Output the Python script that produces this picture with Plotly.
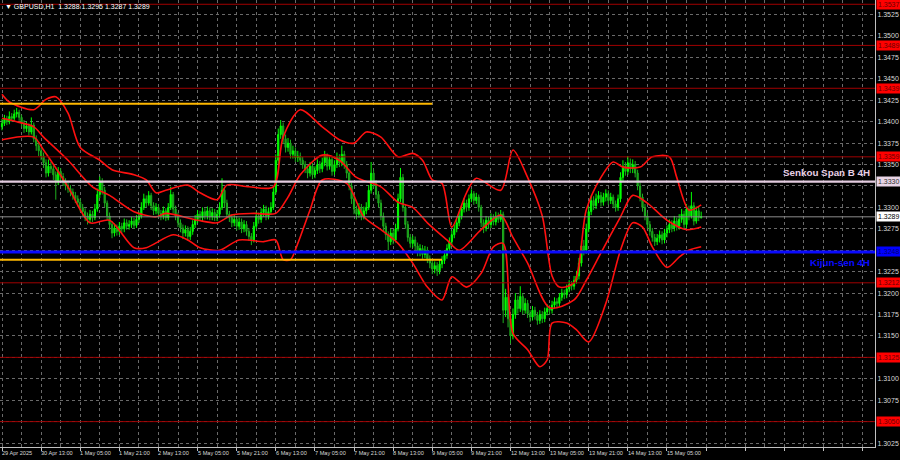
import plotly.graph_objects as go

# ---------------- data (GBPUSD H1) ----------------
closes = [
1.3398,1.3403,1.3400,1.3406,1.3404,1.3409,1.3411,1.3405,1.3398,1.3392,
1.3395,1.3388,1.3396,1.3380,1.3372,1.3366,1.3360,1.3352,1.3340,1.3348,
1.3345,1.3338,1.3330,1.3342,1.3336,1.3330,1.3325,1.3322,1.3318,1.3314,
1.3310,1.3306,1.3300,1.3295,1.3290,1.3286,1.3292,1.3288,1.3298,1.3315,
1.3330,1.3320,1.3305,1.3290,1.3280,1.3270,1.3276,1.3272,1.3278,1.3275,
1.3282,1.3278,1.3280,1.3284,1.3279,1.3286,1.3290,1.3300,1.3310,1.3305,
1.3314,1.3302,1.3296,1.3300,1.3293,1.3290,1.3296,1.3288,1.3300,1.3315,
1.3298,1.3290,1.3282,1.3276,1.3270,1.3274,1.3266,1.3272,1.3280,1.3286,
1.3292,1.3288,1.3295,1.3290,1.3296,1.3289,1.3294,1.3288,1.3292,1.3300,
1.3320,1.3305,1.3292,1.3288,1.3282,1.3286,1.3278,1.3283,1.3275,1.3280,
1.3272,1.3266,1.3262,1.3278,1.3290,1.3286,1.3294,1.3298,1.3290,1.3295,
1.3300,1.3318,1.3355,1.3385,1.3395,1.3380,1.3370,1.3375,1.3362,1.3366,
1.3358,1.3360,1.3355,1.3350,1.3345,1.3340,1.3348,1.3338,1.3343,1.3350,
1.3345,1.3352,1.3360,1.3348,1.3356,1.3342,1.3350,1.3358,1.3352,1.3362,
1.3350,1.3340,1.3325,1.3310,1.3298,1.3292,1.3300,1.3290,1.3296,1.3300,
1.3320,1.3340,1.3328,1.3315,1.3305,1.3290,1.3278,1.3268,1.3260,1.3270,
1.3262,1.3275,1.3310,1.3335,1.3300,1.3280,1.3265,1.3258,1.3262,1.3255,
1.3248,1.3252,1.3245,1.3250,1.3240,1.3235,1.3228,1.3232,1.3226,1.3234,
1.3238,1.3244,1.3252,1.3260,1.3268,1.3275,1.3282,1.3290,1.3298,1.3305,
1.3300,1.3310,1.3316,1.3308,1.3312,1.3300,1.3282,1.3276,1.3285,1.3280,
1.3288,1.3283,1.3290,1.3286,1.3292,1.3180,1.3195,1.3170,1.3150,1.3175,
1.3192,1.3182,1.3196,1.3180,1.3188,1.3176,1.3172,1.3180,1.3174,1.3168,
1.3175,1.3170,1.3178,1.3182,1.3180,1.3186,1.3190,1.3188,1.3195,1.3200,
1.3198,1.3205,1.3210,1.3208,1.3215,1.3220,1.3235,1.3255,1.3250,1.3275,
1.3295,1.3308,1.3302,1.3310,1.3314,1.3306,1.3312,1.3316,1.3308,1.3312,
1.3304,1.3300,1.3310,1.3335,1.3348,1.3342,1.3352,1.3345,1.3350,1.3340,
1.3325,1.3312,1.3300,1.3290,1.3280,1.3272,1.3265,1.3260,1.3264,1.3268,
1.3262,1.3270,1.3274,1.3280,1.3276,1.3284,1.3278,1.3286,1.3292,1.3280,
1.3298,1.3290,1.3302,1.3284,1.3296,1.3288,1.3289]

opens = [
1.3394,1.3398,1.3403,1.3400,1.3406,1.3404,1.3409,1.3411,1.3405,1.3398,
1.3392,1.3395,1.3388,1.3396,1.3380,1.3372,1.3366,1.3360,1.3352,1.3340,
1.3348,1.3345,1.3338,1.3330,1.3342,1.3336,1.3330,1.3325,1.3322,1.3318,
1.3314,1.3310,1.3306,1.3300,1.3295,1.3290,1.3286,1.3292,1.3288,1.3298,
1.3315,1.3330,1.3320,1.3305,1.3290,1.3280,1.3270,1.3276,1.3272,1.3278,
1.3275,1.3282,1.3278,1.3280,1.3284,1.3279,1.3286,1.3290,1.3300,1.3310,
1.3305,1.3314,1.3302,1.3296,1.3300,1.3293,1.3290,1.3296,1.3288,1.3300,
1.3315,1.3298,1.3290,1.3282,1.3276,1.3270,1.3274,1.3266,1.3272,1.3280,
1.3286,1.3292,1.3288,1.3295,1.3290,1.3296,1.3289,1.3294,1.3288,1.3292,
1.3300,1.3320,1.3305,1.3292,1.3288,1.3282,1.3286,1.3278,1.3283,1.3275,
1.3280,1.3272,1.3266,1.3262,1.3278,1.3290,1.3286,1.3294,1.3298,1.3290,
1.3295,1.3300,1.3318,1.3355,1.3385,1.3395,1.3380,1.3370,1.3375,1.3362,
1.3366,1.3358,1.3360,1.3355,1.3350,1.3345,1.3340,1.3348,1.3338,1.3343,
1.3350,1.3345,1.3352,1.3360,1.3348,1.3356,1.3342,1.3350,1.3358,1.3352,
1.3362,1.3350,1.3340,1.3325,1.3310,1.3298,1.3292,1.3300,1.3290,1.3296,
1.3300,1.3320,1.3340,1.3328,1.3315,1.3305,1.3290,1.3278,1.3268,1.3260,
1.3270,1.3262,1.3275,1.3310,1.3335,1.3300,1.3280,1.3265,1.3258,1.3262,
1.3255,1.3248,1.3252,1.3245,1.3250,1.3240,1.3235,1.3228,1.3232,1.3226,
1.3234,1.3238,1.3244,1.3252,1.3260,1.3268,1.3275,1.3282,1.3290,1.3298,
1.3305,1.3300,1.3310,1.3316,1.3308,1.3312,1.3300,1.3282,1.3276,1.3285,
1.3280,1.3288,1.3283,1.3290,1.3286,1.3292,1.3180,1.3195,1.3170,1.3150,
1.3175,1.3192,1.3182,1.3196,1.3180,1.3188,1.3176,1.3172,1.3180,1.3174,
1.3168,1.3175,1.3170,1.3178,1.3182,1.3180,1.3186,1.3190,1.3188,1.3195,
1.3200,1.3198,1.3205,1.3210,1.3208,1.3215,1.3220,1.3235,1.3255,1.3250,
1.3275,1.3295,1.3308,1.3302,1.3310,1.3314,1.3306,1.3312,1.3316,1.3308,
1.3312,1.3304,1.3300,1.3310,1.3335,1.3348,1.3342,1.3352,1.3345,1.3350,
1.3340,1.3325,1.3312,1.3300,1.3290,1.3280,1.3272,1.3265,1.3260,1.3264,
1.3268,1.3262,1.3270,1.3274,1.3280,1.3276,1.3284,1.3278,1.3286,1.3292,
1.3280,1.3298,1.3290,1.3302,1.3284,1.3296,1.3288]

highs = [
1.3403,1.3408,1.3407,1.3412,1.3410,1.3414,1.3416,1.3414,1.3408,1.3402,
1.3400,1.3398,1.3405,1.3399,1.3384,1.3376,1.3370,1.3364,1.3356,1.3356,
1.3353,1.3349,1.3342,1.3347,1.3346,1.3340,1.3334,1.3329,1.3326,1.3322,
1.3318,1.3314,1.3310,1.3304,1.3299,1.3294,1.3297,1.3296,1.3304,1.3322,
1.3336,1.3334,1.3324,1.3308,1.3294,1.3284,1.3281,1.3280,1.3283,1.3282,
1.3287,1.3286,1.3285,1.3289,1.3288,1.3291,1.3295,1.3306,1.3316,1.3314,
1.3319,1.3317,1.3306,1.3305,1.3304,1.3297,1.3301,1.3299,1.3305,1.3324,
1.3318,1.3302,1.3294,1.3286,1.3280,1.3279,1.3278,1.3277,1.3285,1.3291,
1.3297,1.3296,1.3300,1.3299,1.3301,1.3300,1.3299,1.3298,1.3297,1.3306,
1.3334,1.3324,1.3309,1.3296,1.3292,1.3291,1.3290,1.3288,1.3287,1.3285,
1.3284,1.3276,1.3270,1.3283,1.3295,1.3294,1.3299,1.3303,1.3302,1.3300,
1.3306,1.3324,1.3362,1.3392,1.3402,1.3399,1.3385,1.3381,1.3379,1.3372,
1.3370,1.3366,1.3364,1.3359,1.3354,1.3349,1.3353,1.3352,1.3348,1.3356,
1.3354,1.3358,1.3366,1.3363,1.3361,1.3359,1.3355,1.3364,1.3362,1.3372,
1.3366,1.3354,1.3344,1.3329,1.3314,1.3302,1.3305,1.3304,1.3301,1.3306,
1.3326,1.3353,1.3344,1.3332,1.3319,1.3309,1.3294,1.3282,1.3272,1.3275,
1.3274,1.3281,1.3316,1.3346,1.3339,1.3304,1.3284,1.3269,1.3267,1.3266,
1.3259,1.3257,1.3256,1.3255,1.3254,1.3244,1.3239,1.3237,1.3236,1.3239,
1.3243,1.3249,1.3257,1.3265,1.3273,1.3280,1.3287,1.3295,1.3303,1.3311,
1.3309,1.3315,1.3321,1.3319,1.3317,1.3315,1.3303,1.3286,1.3290,1.3289,
1.3293,1.3292,1.3295,1.3294,1.3297,1.3295,1.3205,1.3199,1.3175,1.3182,
1.3200,1.3197,1.3208,1.3200,1.3194,1.3192,1.3180,1.3185,1.3184,1.3178,
1.3180,1.3179,1.3183,1.3187,1.3186,1.3191,1.3195,1.3194,1.3200,1.3205,
1.3204,1.3210,1.3215,1.3214,1.3220,1.3226,1.3241,1.3261,1.3262,1.3281,
1.3301,1.3314,1.3313,1.3316,1.3319,1.3318,1.3317,1.3321,1.3320,1.3317,
1.3315,1.3308,1.3315,1.3341,1.3355,1.3353,1.3360,1.3357,1.3356,1.3354,
1.3344,1.3329,1.3316,1.3304,1.3294,1.3284,1.3276,1.3269,1.3269,1.3273,
1.3272,1.3275,1.3279,1.3286,1.3285,1.3290,1.3288,1.3292,1.3298,1.3296,
1.3304,1.3302,1.3318,1.3306,1.3301,1.3300,1.3295]

lows = [
1.3390,1.3395,1.3396,1.3397,1.3400,1.3401,1.3405,1.3401,1.3394,1.3387,
1.3388,1.3384,1.3385,1.3376,1.3366,1.3360,1.3355,1.3346,1.3335,1.3336,
1.3340,1.3332,1.3309,1.3326,1.3331,1.3325,1.3320,1.3317,1.3313,1.3309,
1.3305,1.3301,1.3295,1.3290,1.3284,1.3280,1.3282,1.3283,1.3285,1.3295,
1.3311,1.3315,1.3300,1.3285,1.3274,1.3264,1.3266,1.3267,1.3268,1.3270,
1.3271,1.3274,1.3274,1.3276,1.3275,1.3276,1.3282,1.3287,1.3297,1.3300,
1.3302,1.3297,1.3291,1.3292,1.3288,1.3285,1.3286,1.3284,1.3285,1.3297,
1.3293,1.3285,1.3277,1.3271,1.3263,1.3266,1.3261,1.3262,1.3268,1.3276,
1.3282,1.3284,1.3284,1.3286,1.3286,1.3285,1.3285,1.3284,1.3284,1.3288,
1.3297,1.3300,1.3287,1.3283,1.3277,1.3278,1.3273,1.3274,1.3270,1.3271,
1.3267,1.3261,1.3256,1.3259,1.3275,1.3281,1.3282,1.3289,1.3285,1.3286,
1.3291,1.3297,1.3315,1.3350,1.3380,1.3374,1.3364,1.3365,1.3357,1.3357,
1.3353,1.3353,1.3350,1.3345,1.3340,1.3334,1.3336,1.3333,1.3334,1.3339,
1.3340,1.3341,1.3348,1.3343,1.3344,1.3337,1.3338,1.3346,1.3347,1.3348,
1.3345,1.3334,1.3320,1.3304,1.3292,1.3286,1.3288,1.3285,1.3286,1.3292,
1.3297,1.3316,1.3323,1.3310,1.3300,1.3285,1.3272,1.3262,1.3250,1.3256,
1.3257,1.3259,1.3272,1.3306,1.3295,1.3275,1.3260,1.3253,1.3253,1.3250,
1.3243,1.3243,1.3240,1.3241,1.3235,1.3229,1.3222,1.3223,1.3220,1.3222,
1.3229,1.3234,1.3240,1.3248,1.3256,1.3264,1.3271,1.3278,1.3286,1.3294,
1.3295,1.3296,1.3306,1.3303,1.3304,1.3295,1.3277,1.3270,1.3272,1.3275,
1.3276,1.3279,1.3279,1.3282,1.3283,1.3165,1.3172,1.3160,1.3141,1.3146,
1.3170,1.3176,1.3178,1.3175,1.3176,1.3171,1.3166,1.3168,1.3169,1.3163,
1.3164,1.3165,1.3166,1.3174,1.3175,1.3176,1.3182,1.3183,1.3184,1.3191,
1.3193,1.3194,1.3201,1.3203,1.3204,1.3211,1.3216,1.3231,1.3244,1.3246,
1.3271,1.3291,1.3297,1.3298,1.3305,1.3301,1.3302,1.3307,1.3303,1.3304,
1.3299,1.3295,1.3296,1.3306,1.3330,1.3337,1.3338,1.3340,1.3340,1.3335,
1.3320,1.3307,1.3295,1.3285,1.3275,1.3267,1.3260,1.3255,1.3256,1.3259,
1.3257,1.3258,1.3265,1.3270,1.3271,1.3272,1.3273,1.3274,1.3282,1.3275,
1.3276,1.3285,1.3287,1.3279,1.3281,1.3284,1.3287]

bars = list(range(len(closes)))

# bands (red envelope lines), sampled at bar indices
upper_bars = [0,3,13,18,22,27,32,40,45,54,59,63,67,76,81,88,92,101,111,115,122,131,138,144,149,155,162,168,172,176,180,184,190,194,204,209,215,221,225,228,234,239,245,250,254,261,266,273,276,281,286]
upper_vals = [1.3432,1.3423,1.3414,1.3426,1.3429,1.3410,1.3370,1.3355,1.3344,1.3338,1.3332,1.3317,1.3320,1.3326,1.3317,1.3309,1.3326,1.3324,1.3324,1.3382,1.3414,1.3394,1.3379,1.3375,1.3388,1.3382,1.3359,1.3363,1.3355,1.3332,1.3328,1.3277,1.3317,1.3334,1.3320,1.3367,1.3335,1.3290,1.3220,1.3207,1.3212,1.3297,1.3335,1.3353,1.3347,1.3347,1.3359,1.3359,1.3335,1.3297,1.3303]

middle_bars = [0,6,13,17,27,37,44,54,63,67,80,88,94,103,112,117,122,131,138,145,155,162,168,174,182,187,196,204,209,215,224,234,239,245,253,258,264,272,280,286]
middle_vals = [1.3404,1.3400,1.3394,1.3382,1.3355,1.3324,1.3314,1.3295,1.3289,1.3293,1.3285,1.3282,1.3291,1.3293,1.3293,1.3312,1.3338,1.3361,1.3355,1.3335,1.3324,1.3306,1.3300,1.3282,1.3262,1.3250,1.3274,1.3291,1.3265,1.3235,1.3183,1.3192,1.3215,1.3247,1.3289,1.3314,1.3305,1.3285,1.3274,1.3277]

lower_bars = [0,13,17,27,36,44,54,59,70,76,81,89,97,107,112,115,118,121,126,131,141,148,155,162,168,174,180,184,190,196,201,205,209,215,220,223,225,231,235,240,247,253,258,262,266,272,277,281,286]
lower_vals = [1.3379,1.3382,1.3367,1.3324,1.3282,1.3285,1.3253,1.3253,1.3268,1.3262,1.3253,1.3250,1.3262,1.3260,1.3262,1.3239,1.3239,1.3258,1.3297,1.3332,1.3328,1.3289,1.3274,1.3258,1.3235,1.3207,1.3192,1.3219,1.3207,1.3223,1.3254,1.3258,1.3153,1.3134,1.3114,1.3122,1.3165,1.3165,1.3157,1.3143,1.3188,1.3250,1.3282,1.3277,1.3254,1.3230,1.3242,1.3250,1.3254]

# x-axis labels (every 16 hourly bars, weekends skipped)
tick_bars = [0,16,32,48,64,80,96,112,128,144,160,176,192,208,224,240,256,272]
tick_labels = ["29 Apr 2025","30 Apr 13:00","1 May 05:00","1 May 21:00","2 May 13:00",
               "5 May 05:00","5 May 21:00","6 May 13:00","7 May 05:00","7 May 21:00",
               "8 May 13:00","9 May 05:00","9 May 21:00","12 May 13:00","13 May 05:00",
               "13 May 21:00","14 May 13:00","15 May 05:00"]

# price axis ticks
price_ticks = [1.3025,1.3050,1.3075,1.3100,1.3125,1.3150,1.3175,1.3200,1.3225,1.3250,
               1.3275,1.3300,1.3325,1.3350,1.3375,1.3400,1.3425,1.3450,1.3475,1.3500,1.3525]
hidden_ticks = [1.3050,1.3125,1.3250,1.3325]

# horizontal levels
red_levels = [1.3537,1.3489,1.3439,1.3359,1.3212,1.3125,1.3050]
senkou_b = 1.3330
kijun = 1.3248
last_price = 1.3289
yellow_levels = [1.3421,1.3239]
yellow_end_bars = [176,180]

title_text = "GBPUSD,H1  1.3288 1.3295 1.3287 1.3289"

# ---------------- figure ----------------
FONT = "Liberation Sans, Arial, sans-serif"
fig = go.Figure()

fig.add_trace(go.Candlestick(
    x=bars, open=opens, high=highs, low=lows, close=closes,
    increasing=dict(line=dict(color="#00ff00", width=1), fillcolor="#00ff00"),
    decreasing=dict(line=dict(color="#1fae1f", width=1), fillcolor="#0f8f0f"),
    whiskerwidth=0, showlegend=False, hoverinfo="skip"))

for bx, by in [(upper_bars, upper_vals), (middle_bars, middle_vals), (lower_bars, lower_vals)]:
    fig.add_trace(go.Scatter(x=bx, y=by, mode="lines",
                             line=dict(color="#ff1010", width=1.6, shape="spline", smoothing=0.8),
                             showlegend=False, hoverinfo="skip"))

shapes = []
for lv in red_levels:
    shapes.append(dict(type="line", xref="paper", x0=0, x1=1, yref="y", y0=lv, y1=lv,
                       line=dict(color="#a00000", width=1), layer="above"))
for lv, xe in zip(yellow_levels, yellow_end_bars):
    shapes.append(dict(type="line", xref="x", x0=-2, x1=xe, yref="y", y0=lv, y1=lv,
                       line=dict(color="#ffb800", width=2), layer="above"))
shapes.append(dict(type="line", xref="paper", x0=0, x1=1, yref="y", y0=last_price, y1=last_price,
                   line=dict(color="#8c8c8c", width=1), layer="above"))
shapes.append(dict(type="line", xref="paper", x0=0, x1=1, yref="y", y0=senkou_b, y1=senkou_b,
                   line=dict(color="#e4cce0", width=2.2), layer="above"))
shapes.append(dict(type="line", xref="paper", x0=0, x1=1, yref="y", y0=kijun, y1=kijun,
                   line=dict(color="#0a0aff", width=3), layer="above"))

annotations = []
# x labels, left aligned at their tick
for b, t in zip(tick_bars, tick_labels):
    annotations.append(dict(x=b, xref="x", y=0, yref="paper", yanchor="top", xanchor="left",
                            text=t, showarrow=False, xshift=-2, yshift=-1,
                            font=dict(family=FONT, size=5.6, color="#d8d8d8")))

# price boxes on right axis
def box(price, bg, fg):
    annotations.append(dict(x=1, xref="paper", y=price, yref="y", xanchor="left", yanchor="middle",
                            text=f"{price:.4f}", showarrow=False, xshift=1, bgcolor=bg,
                            borderpad=1, font=dict(family=FONT, size=7, color=fg)))
for lv in red_levels:
    box(lv, "#ff0000", "#6a0000")
box(senkou_b, "#e8d4e6", "#303030")
box(kijun, "#0000ff", "#000070")
box(last_price, "#ffffff", "#000000")

annotations.append(dict(x=0.997, xref="paper", y=senkou_b, yref="y", xanchor="right", yanchor="bottom",
                        text="<b>Senkou Span B 4H</b>", showarrow=False, yshift=2,
                        font=dict(family=FONT, size=9.8, color="#e8d0e6")))
annotations.append(dict(x=0.997, xref="paper", y=kijun, yref="y", xanchor="right", yanchor="top",
                        text="<b>Kijun-sen 4H</b>", showarrow=False, yshift=-3,
                        font=dict(family=FONT, size=9.8, color="#0a0aff")))
annotations.append(dict(x=0, xref="paper", y=1, yref="paper", xanchor="left", yanchor="top",
                        text="▼ " + title_text, showarrow=False, xshift=3, yshift=-1,
                        font=dict(family=FONT, size=7, color="#ffffff")))

tick_text = ["" if any(abs(v - h) < 1e-9 for h in hidden_ticks) else f"{v:.4f}" for v in price_ticks]

fig.update_layout(
    width=900, height=460,
    margin=dict(l=0, r=25, t=0, b=13, autoexpand=False),
    paper_bgcolor="#000000", plot_bgcolor="#000000",
    showlegend=False,
    shapes=shapes, annotations=annotations,
    xaxis=dict(range=[-0.82, 357.1], rangeslider=dict(visible=False),
               tickmode="linear", tick0=0, dtick=16, showticklabels=False,
               ticks="outside", ticklen=3, tickcolor="#c0c0c0",
               showgrid=True, gridcolor="#6a6a6a", griddash="dot", gridwidth=1,
               minor=dict(tickmode="linear", tick0=8, dtick=16, showgrid=True,
                          gridcolor="#6a6a6a", griddash="dot", ticks=""),
               zeroline=False, showline=True, linecolor="#c0c0c0", linewidth=1),
    yaxis=dict(side="right", range=[1.30204, 1.35420],
               tickmode="array", tickvals=price_ticks, ticktext=tick_text,
               tickfont=dict(family=FONT, size=7, color="#d8d8d8"),
               showgrid=True, gridcolor="#6a6a6a", griddash="dot", gridwidth=1,
               zeroline=False, showline=True, linecolor="#c0c0c0", linewidth=1,
               ticks="", automargin=False),
)

fig.write_html("out.html", config={"displayModeBar": False},
               post_script="document.body.style.margin='0';document.body.style.padding='0';document.body.style.overflow='hidden';")
